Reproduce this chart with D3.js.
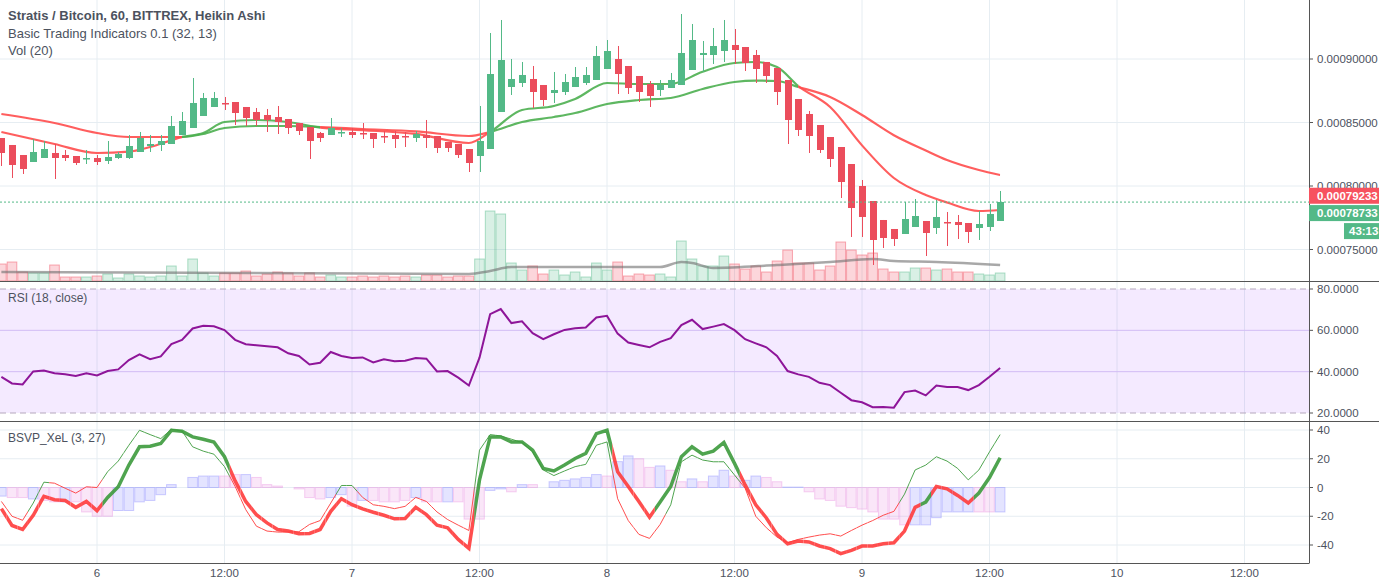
<!DOCTYPE html>
<html><head><meta charset="utf-8">
<script src="https://cdn.jsdelivr.net/npm/d3@7"></script>
<style>body{margin:0;background:#fff}svg{display:block;font-family:"Liberation Sans",Arial,sans-serif}</style>
</head><body><svg id="c" width="1379" height="581"></svg>
<script>
// ---- data (prices in satoshi = 1e-8 BTC), hourly candles t = hours since day 6 00:00 ----
const tStart = -9;
const haOpen  = [83780,83229,82441,81890,82205,82599,82441,82362,82126,82205,81969,82205,82205,82677,83150,83229,83307,84016,84567,85512,86221,86536,86614,86221,85827,85591,85433,85276,84961,84646,84173,84016,84173,84252,84173,84173,83937,84016,83937,83780,84016,83937,83465,83307,82914,82362,82914,85827,87796,88111,88426,87953,87323,87402,87796,88111,88347,89213,90000,89449,88662,88032,87560,87717,87953,89134,90315,90315,90630,91103,90945,90315,89764,89292,88347,86851,85670,84803,83858,83071,81732,80000,78819,77323,76615,76221,76772,77245,76693,77166,77166,77087,76693,76772,77245];
const haHigh  = [83780,83229,82441,83701,83543,83307,82835,82362,82835,82441,83543,82677,84016,84252,84016,84016,85512,85827,88504,87323,87402,87008,86614,86221,86142,86063,86300,85276,84961,84646,84252,85355,84567,84567,84961,84173,84331,84331,84252,84331,85197,83937,83465,83307,82914,86300,92048,93071,90000,89764,89449,87953,88977,88819,89370,89370,91024,91496,91024,89449,88662,88268,88347,88898,93543,92756,91418,92441,93071,92362,90945,90709,89764,89292,88347,86851,85906,84803,83858,83071,81732,80473,78819,77323,76615,78741,78977,77245,78898,77953,77717,77087,78032,78583,79607];
const haLow   = [81575,80630,80945,81890,82205,80551,81969,81654,81732,81654,81732,82126,82126,82677,82677,82756,83307,84016,84567,85512,86221,85985,84803,84725,84725,84252,84095,84095,84016,82126,83465,84016,83858,83780,83701,82992,83386,82992,83071,83465,82992,82599,82677,82205,81102,81102,82914,85827,87166,87796,86142,86300,86536,87166,87796,87953,88347,89213,87245,87245,86614,86221,87087,87717,87953,89134,88977,89607,89764,89607,89055,88111,88111,86378,83307,83937,82599,82599,81496,79055,75985,75985,73780,75119,75276,76221,76772,74488,76221,75276,75827,75512,75748,76457,77245];
const haClose = [82599,81654,81339,82677,82914,82205,82205,81811,82205,81890,82284,82520,83150,83780,83307,83543,84725,85118,86536,86930,86930,86457,85748,85355,85197,85197,85040,84567,84331,83543,83780,84567,84252,84016,84095,83701,83858,83701,83858,84095,83780,82992,82992,82441,81811,83543,88819,89922,88426,88741,87402,86772,87560,88189,88583,88741,90237,90630,88819,87717,87402,87087,87953,88347,90473,91496,90473,91024,91496,90709,89686,89213,88662,87402,85197,84410,83937,82835,82126,80315,78268,77560,75748,75906,75827,77402,77638,76299,77560,77087,76930,76378,77008,77796,78741];
const volume  = [17,19,9,8,8,16,4,4,4,5,7,3,7,5,4,5,15,5,22,8,5,8,8,10,5,7,9,8,5,8,4,6,4,4,5,4,5,4,5,4,6,6,4,5,5,22,70,67,18,11,15,7,11,6,9,4,18,11,19,5,7,6,7,4,40,22,15,15,25,17,12,15,9,20,31,18,18,11,15,39,31,26,28,12,9,9,13,13,11,12,9,9,7,6,8];
const volMA   = [[-9,9],[35,7],[37,10],[39,14],[53,14],[55,19],[56,18],[58,13],[64,16],[69,19],[73,22],[75,20],[79,19],[85,16]];
const maT     = [-9,-4,0,3,5,8,10,12,15,18,21,25,30,35,37,40,43,45,48,51,54,57,60,62,64,66,69,72,75,78,80,83,85];
const maSlow  = [85670,84961,84173,83858,83858,83858,84095,84567,84725,84725,84646,84488,84300,83937,84252,85040,85433,85748,86457,86772,86930,87638,88189,88300,88268,87796,87008,85591,84000,82800,82047,81260,80866];
const maFast  = [84252,83307,82599,82700,83071,83858,84173,85040,85197,85040,84600,84400,84100,83386,84252,85985,86300,86851,88111,88032,88032,89000,89686,89764,89370,87874,86221,83200,80630,79292,78700,78032,78111];
const rsi = [37.5,34.3,33.8,40.1,40.6,39.2,38.7,37.9,39.2,38.2,40.3,41.1,45.6,48.4,46.0,47.4,53.3,55.4,60.9,62.2,62.0,60.1,55.4,53.3,52.8,52.3,51.8,48.9,47.6,43.5,44.3,49.5,47.6,46.6,46.9,44.5,46.0,45.0,45.3,46.6,46.3,40.1,40.3,37.1,33.3,46.8,67.8,70.3,63.5,64.4,58.6,55.7,58.1,60.2,61.0,61.4,66.2,67.0,58.4,54.1,52.9,51.8,54.4,56.2,62.5,65.1,60.6,61.8,63.0,60.1,55.7,53.7,51.8,47.6,40.3,38.7,37.5,34.6,33.5,29.8,26.2,25.2,22.8,22.9,22.6,30.1,30.9,28.5,33.3,32.6,32.6,31.1,33.5,37.5,41.8];
const bsvpThick = [-14.7,-26.4,-29.2,-19.3,-6.2,-8.5,-9.0,-13.8,-9.7,-16.1,-6.9,0.5,15.6,28.3,28.7,30.6,39.8,39.1,35.2,33.6,31.7,21.4,4.6,-9.7,-18.9,-24.6,-29.2,-30.3,-32.2,-32.0,-29.2,-16.6,-7.8,-12.0,-14.9,-17.2,-19.3,-21.8,-21.6,-13.8,-18.9,-26.2,-28.0,-36.1,-42.3,5.3,35.2,35.2,31.7,31.7,26.0,13.3,11.5,15.6,20.2,23.7,37.5,39.8,11.0,0.7,-9.7,-20.7,-10.1,0.7,21.4,28.3,23.2,25.3,31.3,16.8,1.8,-12.0,-21.2,-32.6,-39.1,-37.2,-37.9,-40.7,-42.5,-46.0,-43.7,-40.7,-40.7,-39.1,-38.4,-30.3,-13.8,-10.1,0.7,-0.9,-5.5,-10.8,-3.9,6.9,20.7];
const bsvpThin  = [-9.7,-20.0,-22.8,-10.8,3.7,3.0,-0.5,-3.9,0.5,0,11.0,18.4,29.4,39.8,36.8,34.0,40.5,39.3,28.3,25.3,23.2,14.5,0.7,-15.4,-26.9,-30.3,-31.0,-31.0,-30.8,-25.7,-23.0,-10.8,1.4,1.4,-6.9,-12.0,-13.1,-14.7,-13.1,-6.9,-9.7,-17.0,-22.3,-26.2,-29.9,26.0,36.8,35.9,33.6,31.3,24.8,12.2,8.3,11.5,14.5,16.1,29.4,31.7,-7.8,-23.0,-32.6,-35.4,-25.7,-12.0,17.9,22.5,19.1,17.9,17.9,8.7,-0.5,-20.0,-28.0,-34.5,-38.4,-36.1,-34.5,-33.1,-32.2,-33.8,-29.9,-26.2,-23.0,-19.3,-16.6,-4.6,12.2,15.6,21.4,18.4,13.3,5.3,12.2,24.8,36.8];
const thickBull = [0,0,0,0,0,0,0,0,0,0, 1,1,1,1,1,1,1,1,1,1,1,1, 0,0,0,0,0,0,0,0,0,0,0,0,0,0,0,0,0,0,0,0,0,0,0, 1,1,1,1,1,1,1,1,1,1,1,1,1, 0,0,0,0, 1,1,1,1,1,1,1,1, 0,0,0,0,0,0,0,0,0,0,0,0,0,0,0,0,0, 1, 0,0,0,0, 1,1,1];
const thinBull  = [0,0,0, 1,1, 0,0,0,0,0, 1,1,1,1,1,1,1,1,1,1,1,1, 0,0,0,0,0,0,0,0,0,0, 1,1, 0,0,0,0,0,0,0,0,0,0,0, 1,1,1,1,1,1,1,1,1,1,1,1,1, 0,0,0,0,0, 1,1,1,1,1,1,1, 0,0,0,0,0,0,0,0,0,0,0,0,0,0,0, 1,1,1,1,1,1,1,1,1,1];
const hist     = [-6,-7,-7,-8,-9,-10,-10,-10,-17,-20,-20,-16,-16,-10,-9,-5,2,0,7,8,8,8,9,9,7,2,1,0,-1,-7,-8,-7,-5,-13,-9,-9,-10,-10,-9,-7,-10,-10,-10,-10,-22,-22,-2,-1,-3,2,2,0,4,5,6,7,9,8,18,22,20,14,15,12,4,6,4,8,12,8,5,8,7,4,0.3,0.3,-3,-8,-9,-13,-14,-15,-17,-22,-22,-26,-26,-26,-21,-17,-17,-17,-17,-17,-17];
const histBlue = [1,0,0,1,0,0,1,0,0,0,0,1,1,1,1,1,1,0,1,1,1,0,0,1,0,0,0,0,0,0,0,1,1,0,1,0,0,0,0,1,0,0,1,0,0,0,1,1,0,1,0,0,1,1,1,1,1,0,1,1,0,0,1,0,0,1,0,1,1,0,1,1,0,0,1,1,0,0,0,0,0,0,0,0,0,0,1,1,1,1,1,1,0,0,1];
const timeTicks = [0,12,24,36,48,60,72,84,96,108];
const timeLabels = ["6","12:00","7","12:00","8","12:00","9","12:00","10","12:00"];
const priceTicks = [75000,80000,85000,90000];
const rsiTicks = [20,40,60,80];
const bsvpTicks = [-40,-20,0,20,40];
const lastPrice = 78733, maLastPrice = 79233, countdown = "43:13";

// ---- drawing ----
const svg = d3.select("#c");
const W = 1379, AX = 1309;
const GREEN = "#53b987", RED = "#eb4d5c", TXT = "#4c525e", GRID = "#e6edf2";
const x = d3.scaleLinear().domain([-9.13, 114.07]).range([0, AX]);
const yP = d3.scaleLinear().domain([75000, 90000]).range([249.5, 59]);
const yV = d3.scaleLinear().domain([0, 70]).range([281, 211]);
const yR = d3.scaleLinear().domain([20, 80]).range([413, 289]);
const yB = d3.scaleLinear().domain([-40, 40]).range([545, 430]);
const idx = d3.range(haOpen.length);
const tOf = i => tStart + i;
const g = svg.append("g");

// grids
const panes = [[0,281],[281,421],[421,563]];
panes.forEach(([a,b]) => timeTicks.forEach(t => g.append("line").attr("x1",x(t)).attr("x2",x(t)).attr("y1",a).attr("y2",b).attr("stroke",GRID)));
priceTicks.forEach(p => g.append("line").attr("x1",0).attr("x2",AX).attr("y1",yP(p)).attr("y2",yP(p)).attr("stroke",GRID));
[-40,-20,20,40,0].forEach(v => g.append("line").attr("x1",0).attr("x2",AX).attr("y1",yB(v)).attr("y2",yB(v)).attr("stroke",GRID));
// RSI band
[40,60].forEach(v => g.append("line").attr("x1",0).attr("x2",AX).attr("y1",yR(v)).attr("y2",yR(v)).attr("stroke","#d9cdf3"));
g.append("rect").attr("x",0).attr("y",yR(80)).attr("width",AX).attr("height",yR(20)-yR(80)).attr("fill","rgba(153,60,255,0.11)");
[20,80].forEach(v => g.append("line").attr("x1",0).attr("x2",AX).attr("y1",yR(v)).attr("y2",yR(v)).attr("stroke","#b5a8bd").attr("stroke-dasharray","6,4"));

// volume
const bw = x(1)-x(0);
g.selectAll(".vol").data(idx).join("rect")
  .attr("x", i => x(tOf(i)) - bw/2 + 0.5).attr("width", bw-1)
  .attr("y", i => yV(volume[i])).attr("height", i => yV(0)-yV(volume[i]))
  .attr("fill", i => haClose[i] >= haOpen[i] ? "rgba(83,185,135,0.22)" : "rgba(240,70,90,0.22)")
  .attr("stroke", i => haClose[i] >= haOpen[i] ? "rgba(83,185,135,0.45)" : "rgba(240,70,90,0.45)");
g.append("path").datum(volMA).attr("fill","none").attr("stroke","rgba(110,110,110,0.6)").attr("stroke-width",2.5)
  .attr("d", d3.line().x(d=>x(d[0])).y(d=>yV(d[1])).curve(d3.curveMonotoneX));

// MA lines coloured by cross
const defs = svg.append("defs");
function clipByState(id, ranges){ const cp = defs.append("clipPath").attr("id",id);
  ranges.forEach(([a,b]) => cp.append("rect").attr("x",a).attr("y",0).attr("width",b-a).attr("height",581)); return `url(#${id})`; }
const maGreen = [], maRed = [];
for (let k=0;k<maT.length-1;k++){ const d = (maFast[k]-maSlow[k]) + (maFast[k+1]-maSlow[k+1]);
  (d>0?maGreen:maRed).push([x(maT[k]), x(maT[k+1])]); }
maRed.push([-5, x(maT[0])]);
const maLine = vals => d3.line().x((d,k)=>x(maT[k])).y(d=>yP(d)).curve(d3.curveMonotoneX)(vals);
const cg = clipByState("maG", maGreen), cr = clipByState("maR", maRed);
[maSlow, maFast].forEach(v => {
  g.append("path").attr("d", maLine(v)).attr("fill","none").attr("stroke","#4caf50").attr("stroke-width",2.2).attr("stroke-opacity",0.9).attr("clip-path",cg);
  g.append("path").attr("d", maLine(v)).attr("fill","none").attr("stroke","#ff4d4d").attr("stroke-width",2.2).attr("stroke-opacity",0.9).attr("clip-path",cr);
});

// candles
const cw = 7;
g.selectAll(".wick").data(idx).join("line")
  .attr("x1", i => Math.round(x(tOf(i)))+0.5).attr("x2", i => Math.round(x(tOf(i)))+0.5)
  .attr("y1", i => yP(haHigh[i])).attr("y2", i => yP(haLow[i]))
  .attr("stroke", i => haClose[i] >= haOpen[i] ? GREEN : RED);
g.selectAll(".body").data(idx).join("rect")
  .attr("x", i => Math.round(x(tOf(i))) - 3).attr("width", cw)
  .attr("y", i => yP(Math.max(haOpen[i],haClose[i])))
  .attr("height", i => Math.max(1.5, Math.abs(yP(haOpen[i])-yP(haClose[i]))))
  .attr("fill", i => haClose[i] >= haOpen[i] ? GREEN : RED);

// last price line
g.append("line").attr("x1",0).attr("x2",AX).attr("y1",yP(lastPrice)).attr("y2",yP(lastPrice))
  .attr("stroke",GREEN).attr("stroke-dasharray","2,2");

// RSI
g.append("path").datum(rsi).attr("fill","none").attr("stroke","#8e1599").attr("stroke-width",2)
  .attr("d", d3.line().x((d,i)=>x(tOf(i))).y(d=>yR(d)));

// BSVP histogram
g.selectAll(".hist").data(idx).join("rect")
  .attr("x", i => x(tOf(i)) - bw/2 + 0.5).attr("width", bw-1)
  .attr("y", i => yB(Math.max(0,hist[i]))).attr("height", i => Math.abs(yB(hist[i])-yB(0)))
  .attr("fill", i => histBlue[i] ? "rgba(120,120,255,0.2)" : "rgba(230,130,220,0.2)")
  .attr("stroke", i => histBlue[i] ? "rgba(120,120,255,0.35)" : "rgba(230,130,220,0.35)");
function stateRanges(st, want){ const r=[]; st.forEach((s,i)=>{ if(s===want) r.push([x(tOf(i)-0.5), x(tOf(i)+0.5)]); }); return r; }
const bLine = d3.line().x((d,i)=>x(tOf(i))).y(d=>yB(d));
[[bsvpThin, thinBull, 1, "thin"], [bsvpThick, thickBull, 3.5, "thick"]].forEach(([vals, st, w, nm]) => {
  const cG = clipByState(nm+"G", stateRanges(st,1)), cR = clipByState(nm+"R", stateRanges(st,0));
  g.append("path").attr("d", bLine(vals)).attr("fill","none").attr("stroke","#3c9a3c").attr("stroke-opacity",0.9).attr("stroke-width",w).attr("clip-path",cG);
  g.append("path").attr("d", bLine(vals)).attr("fill","none").attr("stroke","#ff3b3b").attr("stroke-opacity",0.9).attr("stroke-width",w).attr("clip-path",cR);
});

// frame
const fr = svg.append("g").attr("stroke","#555");
fr.append("line").attr("x1",AX+0.5).attr("x2",AX+0.5).attr("y1",0).attr("y2",563);
fr.append("line").attr("x1",0).attr("x2",W).attr("y1",281.5).attr("y2",281.5);
fr.append("line").attr("x1",0).attr("x2",W).attr("y1",421.5).attr("y2",421.5);
fr.append("line").attr("x1",0).attr("x2",AX+0.5).attr("y1",563.5).attr("y2",563.5);

// axes labels
const lab = svg.append("g").attr("fill",TXT).attr("font-size",11.5);
function rightTick(y, text){ lab.append("line").attr("x1",AX).attr("x2",AX+4).attr("y1",y).attr("y2",y).attr("stroke","#555");
  lab.append("text").attr("x",AX+8).attr("y",y).attr("dy","0.35em").text(text); }
priceTicks.forEach(p => rightTick(yP(p), (p/1e8).toFixed(8)));
rsiTicks.forEach(v => rightTick(yR(v), v.toFixed(4)));
bsvpTicks.forEach(v => rightTick(yB(v), String(v)));
timeTicks.forEach((t,k) => lab.append("text").attr("x",x(t)).attr("y",577).attr("text-anchor","middle").text(timeLabels[k]));

// price badges
function badge(y, text, col, x0){ svg.append("rect").attr("x",x0).attr("y",y-8).attr("width",W-x0).attr("height",16).attr("fill",col);
  svg.append("text").attr("x",x0+(x0===AX?8:5)).attr("y",y).attr("dy","0.35em").attr("fill","#fff").attr("font-size",11.5).attr("font-weight","bold").text(text); }
badge(yP(maLastPrice), (maLastPrice/1e8).toFixed(8), "#f7525f", AX);
badge(yP(lastPrice)+11, (lastPrice/1e8).toFixed(8), GREEN, AX);
badge(yP(lastPrice)+29, countdown, GREEN, 1344);

// titles
const tt = svg.append("g").attr("fill",TXT).attr("font-size",13);
tt.append("text").attr("x",8).attr("y",20).attr("font-weight","bold").text("Stratis / Bitcoin, 60, BITTREX, Heikin Ashi");
tt.append("text").attr("x",8).attr("y",38).text("Basic Trading Indicators 0.1 (32, 13)");
tt.append("text").attr("x",8).attr("y",55).text("Vol (20)");
tt.append("text").attr("x",8).attr("y",302).attr("font-size",12).text("RSI (18, close)");
tt.append("text").attr("x",8).attr("y",442).attr("font-size",12).text("BSVP_XeL (3, 27)");
</script></body></html>
